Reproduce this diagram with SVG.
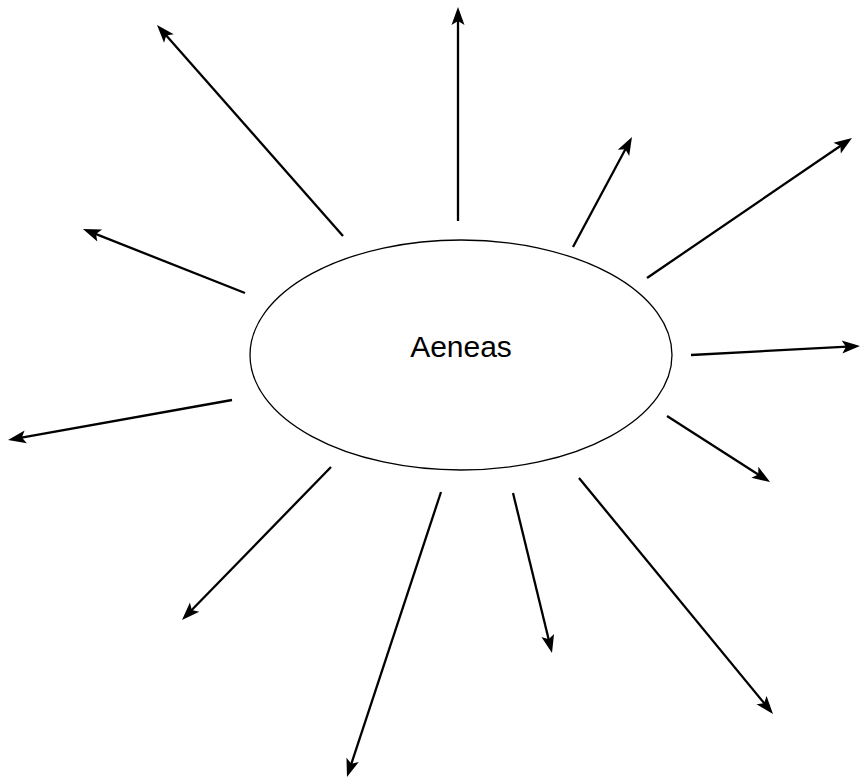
<svg xmlns="http://www.w3.org/2000/svg" width="860" height="778" viewBox="0 0 860 778">
<style>
.edge{stroke:#000;stroke-width:2.3;fill:none;marker-end:url(#ah)}
.node{fill:#fff;stroke:#000;stroke-width:1.3}
.label{font-family:"Liberation Sans",Arial,sans-serif;font-size:30px;fill:#000;text-anchor:middle}
</style>
<defs>
<marker id="ah" markerUnits="userSpaceOnUse" orient="auto" markerWidth="24" markerHeight="16" viewBox="-1 -8 24 16" refX="10" refY="0">
<path d="M0,-6.5 L18,0 L0,6.5 L4,0 Z" fill="#000"/>
</marker>
</defs>
<rect width="860" height="778" fill="#fff"/>
<g id="connectors">
<line class="edge" x1="343" y1="236" x2="162.3" y2="31"/>
<line class="edge" x1="458" y1="221" x2="458" y2="15"/>
<line class="edge" x1="573" y1="247" x2="628.2" y2="144"/>
<line class="edge" x1="647" y1="278" x2="845.4" y2="142.5"/>
<line class="edge" x1="691" y1="355" x2="852" y2="346.4"/>
<line class="edge" x1="667" y1="416" x2="763.3" y2="477.7"/>
<line class="edge" x1="579" y1="478" x2="767.9" y2="707.8"/>
<line class="edge" x1="513" y1="493" x2="550.1" y2="645.2"/>
<line class="edge" x1="441" y1="492" x2="349.5" y2="769.4"/>
<line class="edge" x1="331" y1="467" x2="187.6" y2="614.3"/>
<line class="edge" x1="232" y1="400" x2="15.9" y2="438.6"/>
<line class="edge" x1="245" y1="293" x2="90.4" y2="231.9"/>
</g>
<g id="aeneas">
<ellipse class="node" cx="461" cy="355" rx="211" ry="115"/>
<text class="label" x="461" y="357">Aeneas</text>
</g>
</svg>
